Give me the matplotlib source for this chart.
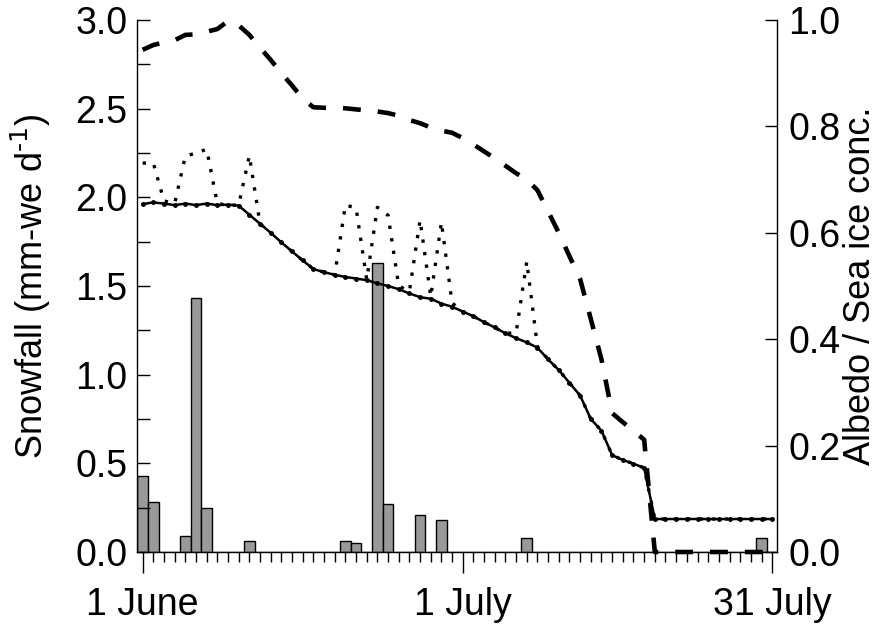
import numpy as np
import matplotlib.pyplot as plt
from matplotlib.ticker import MultipleLocator, FormatStrFormatter

plt.rcParams['font.family'] = ['Liberation Sans', 'DejaVu Sans']
plt.rcParams['mathtext.default'] = 'regular'

# --- data (day index 0 = 1 June) ---
days = np.arange(60)
tick_days = [0, 30, 59]
tick_labels = ['1 June', '1 July', '31 July']

# snowfall, mm-we per day (left axis)
snowfall = [0.43, 0.28, 0, 0, 0.09, 1.43, 0.25, 0, 0, 0,
            0.06, 0, 0, 0, 0, 0, 0, 0, 0, 0.06,
            0.05, 0, 1.63, 0.27, 0, 0, 0.21, 0, 0.18, 0,
            0, 0, 0, 0, 0, 0, 0.08, 0, 0, 0,
            0, 0, 0, 0, 0, 0, 0, 0, 0, 0,
            0, 0, 0, 0, 0, 0, 0, 0, 0.08, 0]

# albedo (solid, right axis)
albedo = [0.654, 0.657, 0.655, 0.652, 0.655, 0.652, 0.655, 0.652, 0.653, 0.651,
          0.634, 0.617, 0.600, 0.582, 0.565, 0.548, 0.532, 0.526, 0.521, 0.517,
          0.514, 0.511, 0.505, 0.500, 0.494, 0.486, 0.479, 0.476, 0.467, 0.461,
          0.452, 0.443, 0.432, 0.422, 0.411, 0.402, 0.394, 0.384, 0.362, 0.342,
          0.318, 0.294, 0.250, 0.228, 0.182, 0.173, 0.166, 0.158, 0.062, 0.062,
          0.062, 0.062, 0.062, 0.062, 0.062, 0.062, 0.062, 0.062, 0.062, 0.062]

# albedo with fresh snow (dotted, right axis)
albedo_snow = [0.731, 0.731, 0.660, 0.655, 0.744, 0.750, 0.757, 0.655, 0.652, 0.652,
               0.745, 0.617, 0.600, 0.582, 0.565, 0.548, 0.532, 0.526, 0.521, 0.652,
               0.647, 0.512, 0.648, 0.633, 0.500, 0.490, 0.624, 0.480, 0.620, 0.468,
               0.452, 0.443, 0.432, 0.422, 0.411, 0.412, 0.546, 0.386, 0.362, 0.342,
               0.318, 0.294, 0.250, 0.228, 0.182, 0.173, 0.166, 0.158, 0.062, 0.062,
               0.062, 0.062, 0.062, 0.062, 0.062, 0.062, 0.062, 0.062, 0.062, 0.062]

# sea ice concentration (dashed, right axis)
sea_ice = [0.944, 0.953, 0.958, 0.962, 0.972, 0.973, 0.978, 0.983, 0.998, 0.990,
           0.972, 0.948, 0.925, 0.900, 0.877, 0.852, 0.836, 0.835, 0.835, 0.834,
           0.832, 0.830, 0.828, 0.825, 0.820, 0.812, 0.806, 0.798, 0.792, 0.788,
           0.778, 0.766, 0.753, 0.740, 0.726, 0.712, 0.700, 0.680, 0.640, 0.600,
           0.556, 0.513, 0.438, 0.362, 0.261, 0.244, 0.228, 0.211, 0.0, 0.0,
           0.0, 0.0, 0.0, 0.0, 0.0, 0.0, 0.0, 0.0, 0.0, 0.0]

fig = plt.figure(figsize=(8.81, 6.35), dpi=100)
ax = fig.add_axes([137 / 881, 83 / 635, 640 / 881, 532 / 635])
ax2 = ax.twinx()

ax.bar(days, snowfall, width=1.0, color='#999999', edgecolor='black', linewidth=1.0)

ax2.plot(days, sea_ice, color='black', lw=3.3, linestyle=(0, (3.9, 3.7)), clip_on=False)
ax2.plot(days, albedo_snow, color='black', lw=2.4, linestyle=(0, (1, 2.8)))
ax2.plot(days, albedo, color='black', lw=1.8, marker='o', ms=2.5)

ax.set_xlim(-0.53, 59.45)
ax.set_ylim(0, 3.0)
ax2.set_ylim(0, 1.0)

for a in (ax, ax2):
    a.spines['top'].set_visible(False)
ax.spines['right'].set_visible(False)
ax2.spines['left'].set_visible(False)
ax2.spines['bottom'].set_visible(False)
for a in (ax, ax2):
    for s in a.spines.values():
        s.set_linewidth(1.0)

ax.set_xticks(tick_days)
ax.set_xticklabels(tick_labels)
ax.set_xticks(days, minor=True)
ax.tick_params(axis='x', which='major', direction='out', length=15, width=1, labelsize=27, pad=10)
ax.tick_params(axis='x', which='minor', direction='out', length=7.2, width=1)

ax.yaxis.set_major_locator(MultipleLocator(0.5))
ax.yaxis.set_minor_locator(MultipleLocator(0.25))
ax.yaxis.set_major_formatter(FormatStrFormatter('%.1f'))
ax.tick_params(axis='y', which='both', direction='in', length=9.4, width=1, labelsize=27, pad=7)

ax2.yaxis.set_major_locator(MultipleLocator(0.2))
ax2.yaxis.set_major_formatter(FormatStrFormatter('%.1f'))
ax2.tick_params(axis='y', which='major', direction='in', length=9, width=1, labelsize=27, pad=8)

ax.set_ylabel(r'Snowfall (mm-we d$^{\text{-1}}$)', fontsize=26, labelpad=16)
ax2.set_ylabel('Albedo / Sea ice conc.', fontsize=26, labelpad=2)

fig.savefig('out.png', dpi=100)
